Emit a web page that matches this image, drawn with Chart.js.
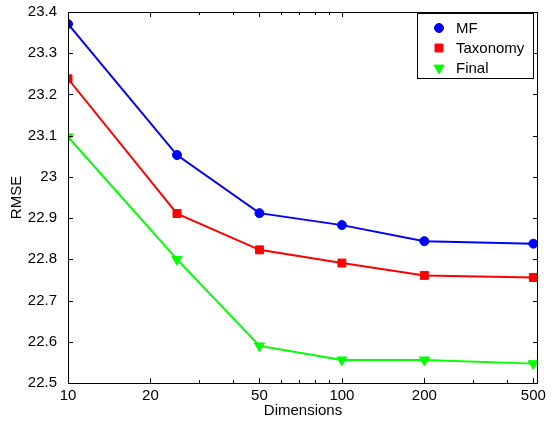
<!DOCTYPE html>
<html><head><meta charset="utf-8">
<script src="https://cdn.jsdelivr.net/npm/chart.js@4/dist/chart.umd.min.js"></script>
<style>html,body{margin:0;padding:0;background:#fff}#wrap{width:557px;height:425px}</style>
</head><body><div id="wrap"><canvas id="c" width="557" height="425"></canvas></div>
<script>
const dimensions = [10, 25, 50, 100, 200, 500];
const mfRMSE = [23.371, 23.053, 22.912, 22.883, 22.844, 22.838];
const taxonomyRMSE = [23.238, 22.911, 22.823, 22.791, 22.761, 22.756];
const finalRMSE = [23.097, 22.800, 22.590, 22.556, 22.556, 22.547];
const seriesLabels = ['MF', 'Taxonomy', 'Final'];
const xTickValues = [10, 20, 50, 100, 200, 500];
const xMinorValues = [30, 40, 60, 70, 80, 90, 300, 400];
const yTickValues = [22.5, 22.6, 22.7, 22.8, 22.9, 23.0, 23.1, 23.2, 23.3, 23.4];

const FONT = {family: '"Liberation Sans", Arial, Helvetica, sans-serif', size: 15};

function pts(ys) { return dimensions.map((d, i) => ({x: d, y: ys[i]})); }

const boxPlugin = {
  id: 'matlabBox',
  afterDraw(chart) {
    const ctx = chart.ctx, a = chart.chartArea;
    const xs = chart.scales.x, ys = chart.scales.y;
    ctx.save();
    ctx.strokeStyle = '#000';
    ctx.lineWidth = 1;
    ctx.strokeRect(Math.round(a.left) + 0.5, Math.round(a.top) + 0.5, Math.round(a.right - a.left) - 1, Math.round(a.bottom - a.top));
    ctx.beginPath();
    const tick = (v, len) => {
      const px = Math.round(xs.getPixelForValue(v)) + 0.5;
      ctx.moveTo(px, a.bottom); ctx.lineTo(px, a.bottom - len);
      ctx.moveTo(px, a.top); ctx.lineTo(px, a.top + len);
    };
    xTickValues.forEach(v => tick(v, 5));
    xMinorValues.forEach(v => tick(v, 3));
    yTickValues.forEach(v => {
      const py = Math.round(ys.getPixelForValue(v)) + 0.5;
      ctx.moveTo(a.left, py); ctx.lineTo(a.left + 5, py);
      ctx.moveTo(a.right, py); ctx.lineTo(a.right - 5, py);
    });
    ctx.stroke();

    // legend
    const lx = 417, ly = 13, lw = 116, lh = 65;
    ctx.fillStyle = '#fff';
    ctx.fillRect(lx, ly, lw, lh);
    ctx.strokeRect(lx + 0.5, ly + 0.5, lw, lh);
    ctx.font = FONT.size + 'px ' + FONT.family;
    ctx.textBaseline = 'middle';
    ctx.textAlign = 'left';
    chart.data.datasets.forEach((ds, i) => {
      const cy = ly + 15 + i * 20;
      const opts = {pointStyle: ds.pointStyle, radius: ds.pointRadius, rotation: ds.pointRotation || 0, borderWidth: 1};
      ctx.fillStyle = ds.borderColor;
      ctx.strokeStyle = ds.borderColor;
      ctx.lineWidth = 1;
      Chart.helpers.drawPoint(ctx, opts, 439, cy);
      ctx.fillStyle = '#000';
      ctx.fillText(ds.label, 456, cy + 1);
    });
    ctx.restore();
  }
};

new Chart(document.getElementById('c'), {
  type: 'line',
  data: {
    datasets: [
      {label: seriesLabels[0], data: pts(mfRMSE), borderColor: '#0000ff', backgroundColor: '#0000ff', pointStyle: 'circle', pointRadius: 4.5, pointBorderWidth: 1, borderWidth: 2},
      {label: seriesLabels[1], data: pts(taxonomyRMSE), borderColor: '#ff0000', backgroundColor: '#ff0000', pointStyle: 'rect', pointRadius: 5.6, pointBorderWidth: 1, borderWidth: 2},
      {label: seriesLabels[2], data: pts(finalRMSE), borderColor: '#00ff00', backgroundColor: '#00ff00', pointStyle: 'triangle', pointRotation: 180, pointRadius: 5.8, pointBorderWidth: 1, borderWidth: 2}
    ]
  },
  options: {
    responsive: false,
    devicePixelRatio: 1,
    animation: false,
    layout: {padding: {top: 12, right: 19, left: 0, bottom: 0}},
    plugins: {legend: {display: false}, tooltip: {enabled: false}},
    elements: {line: {tension: 0}},
    scales: {
      x: {
        type: 'logarithmic', min: 10, max: 520,
        afterBuildTicks(s) { s.ticks = xTickValues.map(v => ({value: v})); },
        afterFit(s) { s.height = 42; },
        grid: {display: false}, border: {display: false},
        ticks: {font: FONT, color: '#000', padding: -4, maxRotation: 0, autoSkip: false, callback: v => String(v)},
        title: {display: true, text: 'Dimensions', font: FONT, color: '#000', padding: {top: 0, bottom: 5}}
      },
      y: {
        type: 'linear', min: 22.5, max: 23.4,
        afterBuildTicks(s) { s.ticks = yTickValues.map(v => ({value: v})); },
        afterFit(s) { s.width = 68; },
        grid: {display: false}, border: {display: false},
        ticks: {font: FONT, color: '#000', padding: 3, autoSkip: false, callback: v => String(Number(Number(v).toFixed(1)))},
        title: {display: true, text: 'RMSE', font: FONT, color: '#000', padding: {top: 8, bottom: 0}}
      }
    }
  },
  plugins: [boxPlugin]
});
</script>
</body></html>
